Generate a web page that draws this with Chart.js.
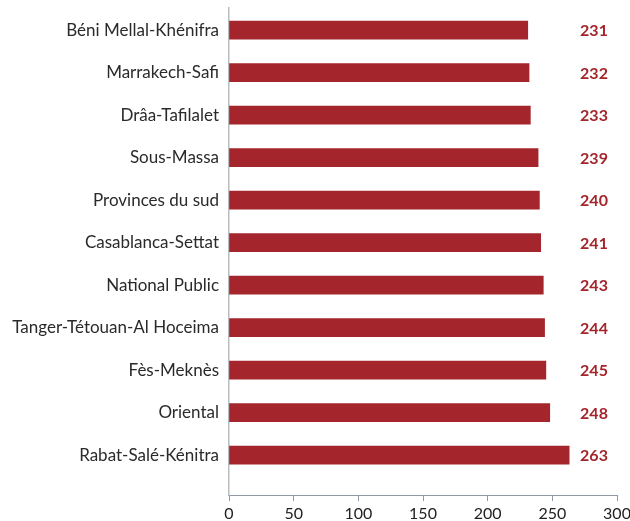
<!DOCTYPE html>
<html>
<head>
<meta charset="utf-8">
<script src="https://cdn.jsdelivr.net/npm/chart.js@4/dist/chart.umd.min.js"></script>
<style>
  html, body { margin: 0; padding: 0; background: #fff; }
  #wrap { width: 630px; height: 521px; }
</style>
</head>
<body>
<div id="wrap"><canvas id="myChart" width="630" height="521"></canvas></div>
<script>
// regions, top to bottom
var regions = [
  'Béni Mellal-Khénifra',
  'Marrakech-Safi',
  'Drâa-Tafilalet',
  'Sous-Massa',
  'Provinces du sud',
  'Casablanca-Settat',
  'National Public',
  'Tanger-Tétouan-Al Hoceima',
  'Fès-Meknès',
  'Oriental',
  'Rabat-Salé-Kénitra'
];
var scores = [231, 232, 233, 239, 240, 241, 243, 244, 245, 248, 263];
var xTicks = [0, 50, 100, 150, 200, 250, 300];

var barColor = '#a4262c';

// value labels in a column on the right
var valueLabels = {
  id: 'valueLabels',
  afterDatasetsDraw: function(chart) {
    var ctx = chart.ctx;
    var yScale = chart.scales.y;
    var x = chart.chartArea.right - 23;
    ctx.save();
    ctx.font = 'bold 16px Lato, "Open Sans", sans-serif';
    ctx.fillStyle = barColor;
    ctx.textAlign = 'center';
    ctx.textBaseline = 'middle';
    scores.forEach(function(v, i) {
      ctx.fillText(String(v), x, yScale.getPixelForValue(i) + 1);
    });
    ctx.restore();
  }
};

var ctx = document.getElementById('myChart').getContext('2d');
var myChart = new Chart(ctx, {
  type: 'bar',
  data: {
    datasets: [{
      data: scores.map(function(v, i) { return { x: v, y: i }; }),
      backgroundColor: barColor,
      barThickness: 18
    }]
  },
  options: {
    indexAxis: 'y',
    responsive: false,
    animation: false,
    layout: { padding: { top: 8, right: 13, left: 0, bottom: 0 } },
    plugins: {
      legend: { display: false },
      tooltip: { enabled: false }
    },
    scales: {
      x: {
        type: 'linear',
        min: 0,
        max: 300,
        afterBuildTicks: function(scale) {
          scale.ticks = xTicks.map(function(v) { return { value: v }; });
        },
        afterFit: function(scale) {
          scale.height = 26;
          scale.paddingLeft = 0;
          scale.paddingRight = 0;
        },
        border: { color: '#8f9aa5', width: 1 },
        grid: {
          drawOnChartArea: false,
          drawTicks: true,
          tickLength: 6,
          color: '#8f9aa5'
        },
        ticks: {
          color: '#222',
          padding: 3,
          font: { family: 'Lato, "Open Sans", sans-serif', size: 16 }
        }
      },
      y: {
        type: 'linear',
        reverse: true,
        offset: false,
        min: -0.52,
        max: 10.94,
        afterBuildTicks: function(scale) {
          scale.ticks = regions.map(function(r, i) { return { value: i }; });
        },
        afterFit: function(scale) {
          scale.width = 229;
          scale.paddingTop = 0;
          scale.paddingBottom = 0;
        },
        border: { color: '#b9bcc0', width: 1.5 },
        grid: { display: false, tickLength: 0 },
        ticks: {
          color: '#2a2a2a',
          padding: 10,
          font: { family: 'Lato, "Open Sans", sans-serif', size: 17 },
          callback: function(value) { return regions[value]; }
        }
      }
    }
  },
  plugins: [valueLabels]
});
</script>
</body>
</html>
